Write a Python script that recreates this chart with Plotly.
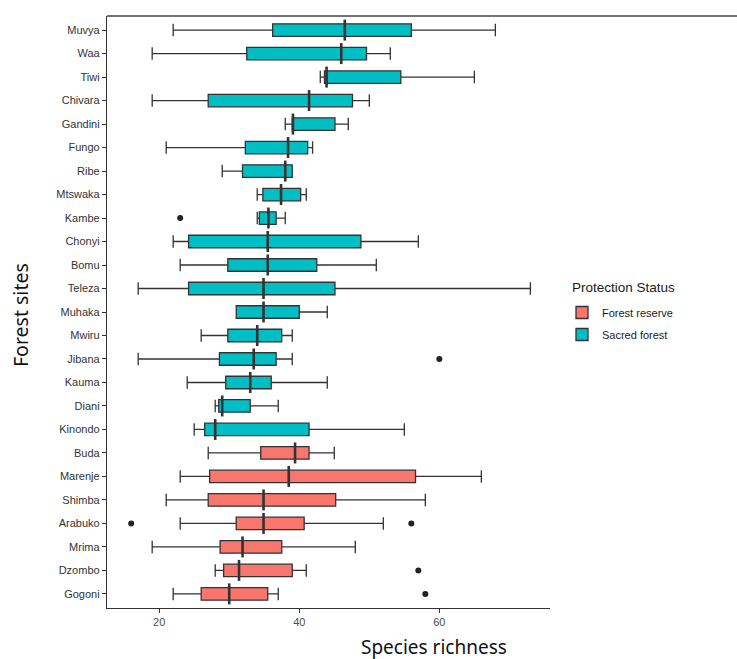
import plotly.graph_objects as go

# Sites listed top to bottom
sites = ["Muvya", "Waa", "Tiwi", "Chivara", "Gandini", "Fungo", "Ribe", "Mtswaka",
         "Kambe", "Chonyi", "Bomu", "Teleza", "Muhaka", "Mwiru", "Jibana", "Kauma",
         "Diani", "Kinondo", "Buda", "Marenje", "Shimba", "Arabuko", "Mrima",
         "Dzombo", "Gogoni"]
status = ["Sacred forest"] * 18 + ["Forest reserve"] * 7

lower = [22, 19, 43, 19, 38, 21, 29, 34, 34, 22, 23, 17, 31, 26, 17, 24, 28, 25,
         27, 23, 21, 23, 19, 28, 22]
q1 = [36.2, 32.5, 43.6, 27, 39, 32.3, 31.9, 34.8, 34.3, 24.2, 29.8, 24.2, 31, 29.8,
      28.6, 29.5, 28.5, 26.5, 34.5, 27.2, 27, 31, 28.7, 29.2, 26]
median = [46.5, 46, 43.9, 41.4, 39.1, 38.4, 38, 37.4, 35.6, 35.5, 35.5, 34.9, 34.9,
          34, 33.5, 33, 29, 28, 39.4, 38.5, 34.9, 34.9, 31.9, 31.4, 30]
q3 = [56, 49.6, 54.5, 47.6, 45.1, 41.2, 39, 40.2, 36.7, 48.8, 42.5, 45.1, 40, 37.5,
      36.7, 36, 33, 41.4, 41.4, 56.6, 45.2, 40.7, 37.5, 39, 35.5]
upper = [68, 53, 65, 50, 47, 41.9, 39, 41, 38, 57, 51, 73, 44, 39, 39, 44, 37, 55,
         45, 66, 58, 52, 48, 41, 37]

outlier_sites = ["Kambe", "Jibana", "Arabuko", "Arabuko", "Dzombo", "Gogoni"]
outlier_values = [23, 60, 16, 56, 57, 58]

colors = {"Forest reserve": "#F8766D", "Sacred forest": "#00BFC4"}
edge = "#333333"

fig = go.Figure()
for grp in ["Forest reserve", "Sacred forest"]:
    idx = [i for i, s in enumerate(status) if s == grp]
    fig.add_trace(go.Box(
        name=grp,
        legendgroup=grp,
        orientation="h",
        y=[sites[i] for i in idx],
        q1=[q1[i] for i in idx],
        median=[median[i] for i in idx],
        q3=[q3[i] for i in idx],
        lowerfence=[lower[i] for i in idx],
        upperfence=[upper[i] for i in idx],
        fillcolor=colors[grp],
        line=dict(color=edge, width=1.3),
        whiskerwidth=1,
        boxpoints=False,
        hoverinfo="skip",
    ))

# thicker median lines (as in ggplot)
fig.add_trace(go.Scatter(
    x=median, y=sites, mode="markers", showlegend=False, hoverinfo="skip",
    marker=dict(symbol="line-ns-open", size=15, color=edge,
                line=dict(color=edge, width=2.6)),
))

# outliers
fig.add_trace(go.Scatter(
    x=outlier_values, y=outlier_sites, mode="markers", showlegend=False,
    hoverinfo="skip", marker=dict(color="#222222", size=6),
))

axis_col = "#333333"
W = 443.0
H = 592.0
fig.update_layout(
    width=737, height=659,
    margin=dict(l=107, r=187, t=16, b=51),
    paper_bgcolor="white", plot_bgcolor="white",
    boxmode="overlay", boxgap=0.24,
    font=dict(family="Liberation Sans, Arial, sans-serif", color="#4D4D4D"),
    showlegend=True,
    legend=dict(
        x=(562 - 107) / W, y=(608 - 298) / H, xanchor="left", yanchor="top",
        font=dict(size=11, color="#1a1a1a"), tracegroupgap=3,
        bgcolor="rgba(0,0,0,0)",
    ),
    xaxis=dict(
        range=[12.55, 75.8], tickvals=[20, 40, 60], showgrid=False, zeroline=False,
        showline=True, linecolor=axis_col, linewidth=1.3,
        ticks="outside", ticklen=4, tickcolor=axis_col, tickwidth=1,
        tickfont=dict(size=11, color="#4D4D4D"),
    ),
    yaxis=dict(
        type="category", categoryorder="array", categoryarray=sites[::-1],
        range=[-0.6, 24.6], showgrid=False, zeroline=False,
        showline=True, linecolor=axis_col, linewidth=1.3,
        ticks="outside", ticklen=4, tickcolor=axis_col, tickwidth=1,
        tickfont=dict(size=11, color="#333333"),
    ),
    annotations=[
        dict(text="Species richness", xref="paper", yref="paper",
             x=(434 - 107) / W, y=(608 - 632) / H, xanchor="center", yanchor="top",
             showarrow=False, font=dict(family="Noto Sans", size=19, color="#111111")),
        dict(text="Forest sites", xref="paper", yref="paper",
             x=(20 - 107) / W, y=(608 - 315) / H, xanchor="center", yanchor="middle",
             textangle=-90, showarrow=False,
             font=dict(family="Noto Sans", size=19.5, color="#111111")),
        dict(text="Protection Status", xref="paper", yref="paper",
             x=(570 - 107) / W, y=(608 - 287) / H, xanchor="left", yanchor="middle",
             showarrow=False, font=dict(size=13.5, color="#1a1a1a")),
    ],
    shapes=[
        dict(type="line", xref="paper", yref="paper", x0=0, x1=(737 - 107) / W,
             y0=1, y1=1, line=dict(color="#444444", width=1.5)),
    ],
)

fig.write_html("out.html")
